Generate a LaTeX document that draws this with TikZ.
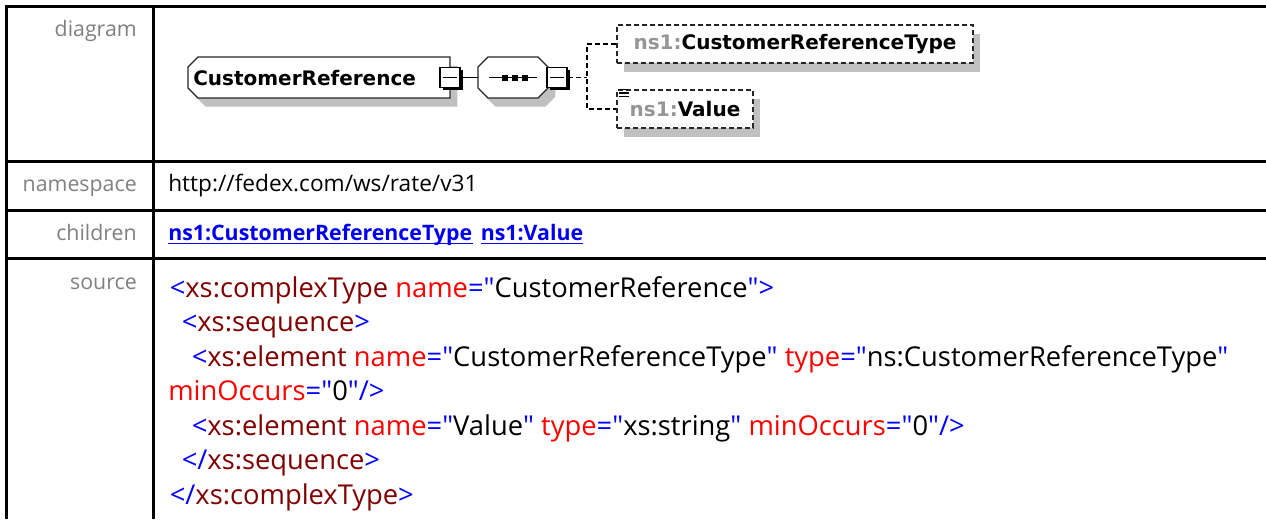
\documentclass[tikz,border=0pt]{standalone}
\usepackage{fontspec}
\setmainfont{Open Sans}[Ligatures=TeXOff]
\newfontfamily\diafont{DejaVu Sans}
\usetikzlibrary{positioning,shadows,calc}

\definecolor{labelgray}{RGB}{128,128,128}
\definecolor{nsgray}{RGB}{150,150,150}
\definecolor{shadowgray}{RGB}{192,192,192}
\definecolor{xmlblue}{RGB}{0,0,255}
\definecolor{xmlelem}{RGB}{128,0,0}
\definecolor{xmlattr}{RGB}{255,0,0}
\definecolor{linkblue}{RGB}{0,0,238}

% colouring of the xml source
\newcommand\xb[1]{\textcolor{xmlblue}{#1}}
\newcommand\xe[1]{\textcolor{xmlelem}{#1}}
\newcommand\xa[1]{\textcolor{xmlattr}{#1}}
\newcommand\nsp[1]{\textcolor{nsgray}{#1}}

\begin{document}
\begin{tikzpicture}[
    x=0.75pt, y=-0.75pt,
    gridline/.style={line width=2.25pt},
    rowlabel/.style={anchor=base east, inner sep=0pt, text=labelgray, font=\fontsize{16}{19}\selectfont},
    cell/.style={anchor=base west, inner sep=0pt, font=\fontsize{17}{20}\selectfont},
    link/.style={anchor=base west, inner sep=0pt, text=linkblue, font=\fontsize{16}{19}\selectfont\bfseries},
    srcline/.style={anchor=base west, inner sep=0pt, font=\fontsize{20.5}{24}\selectfont},
    boxshadow/.style={general shadow={fill=shadowgray, shadow xshift=5.6pt, shadow yshift=-6.4pt}},
    diabox/.style={draw=black!85, fill=white, line width=0.9pt, boxshadow},
    diatext/.style={inner sep=0pt, font=\diafont\bfseries\fontsize{15}{18}\selectfont},
    minusbox/.style={draw, fill=white, line width=1.1pt, minimum size=15pt, inner sep=0pt,
        general shadow={fill=black, shadow xshift=1.9pt, shadow yshift=-1.9pt},
        path picture={\draw[line width=1.2pt] ([xshift=-5.25pt]path picture bounding box.center) -- ([xshift=5.25pt]path picture bounding box.center);}},
    dashline/.style={line width=1.2pt, dash pattern=on 3.75pt off 2.25pt},
    elembox/.style={diabox, dashline, minimum height=28.5pt, diatext}
]
\useasboundingbox (0,0) rectangle (1266,519);

% table
\draw[gridline] (6,519) -- (6,6) -- (1266,6);
\draw[gridline] (153,6) -- (153,519);
\draw[gridline] (6,161) -- (1266,161);
\draw[gridline] (6,210) -- (1266,210);
\draw[gridline] (6,258) -- (1266,258);

\node[rowlabel] (lbldiagram) at (137,36) {diagram};
\node[rowlabel] (lblns) at (137,191) {namespace};
\node[rowlabel] (lblchildren) at (137,240) {children};
\node[rowlabel] (lblsource) at (137,289) {source};

% namespace and children
\node[cell] (nsval) at (168,191) {http://fedex.com/ws/rate/v31};
\node[link] (lnkcrt) at (168,240) {ns1:CustomerReferenceType};
\node[link] (lnkval) at ([xshift=6pt]lnkcrt.base east) {ns1:Value};
\draw[linkblue, line width=1.1pt] ([yshift=-2.6pt]lnkcrt.base west) -- ([yshift=-2.6pt]lnkcrt.base east);
\draw[linkblue, line width=1.1pt] ([yshift=-2.6pt]lnkval.base west) -- ([yshift=-2.6pt]lnkval.base east);

% source
\node[srcline] (src1) at (169.5,297) {\xb{<}\xe{xs:complexType} \xa{name}\xb{="}CustomerReference\xb{">}};
\node[srcline] (src2) at (181.5,331.5) {\xb{<}\xe{xs:sequence}\xb{>}};
\node[srcline] (src3) at (191.5,366) {\xb{<}\xe{xs:element} \xa{name}\xb{="}CustomerReferenceType\xb{"} \xa{type}\xb{="}ns:CustomerReferenceType\xb{"}};
\node[srcline] (src4) at (168,400.5) {\xa{minOccurs}\xb{="}0\xb{"/>}};
\node[srcline] (src5) at (191.5,435) {\xb{<}\xe{xs:element} \xa{name}\xb{="}Value\xb{"} \xa{type}\xb{="}xs:string\xb{"} \xa{minOccurs}\xb{="}0\xb{"/>}};
\node[srcline] (src6) at (181.5,469.5) {\xb{</}\xe{xs:sequence}\xb{>}};
\node[srcline] (src7) at (169.5,504) {\xb{</}\xe{xs:complexType}\xb{>}};

% diagram: complex type
\draw[diabox] (198,57) -- (450,57) -- (450,98) -- (198,98) -- (188,88) -- (188,67) -- cycle;
\node[diatext, anchor=west] (crname) at (193,78) {CustomerReference};
\node[minusbox] (crminus) at (450,77.5) {};

% sequence
\coordinate (seqin) at (478,77.5);
\draw[line width=1.1pt] (crminus.east) -- (seqin);
\draw[diabox] (488,57) -- (538,57) -- (548,67) -- (548,88) -- (538,98) -- (488,98) -- (478,88) -- (478,67) -- cycle;
\draw[line width=1.1pt] (489,77.5) -- (537,77.5);
\fill (502,75) rectangle (507.5,80.5);
\fill (512,75) rectangle (517.5,80.5);
\fill (522,75) rectangle (527.5,80.5);
\node[minusbox] (seqminus) at (557,77.5) {};

% children
\coordinate (fork) at (587,77.5);
\node[elembox, minimum width=267pt] (crt) at (795,44) {\nsp{ns1:}CustomerReferenceType};
\node[elembox, minimum width=102pt] (val) at (685,109) {\nsp{ns1:}Value};
\draw[line width=0.9pt] (620,89.5) -- (628,89.5) (619,93) -- (629,93) (619,96.5) -- (629,96.5);
\draw[dashline] (seqminus.east) -- (fork);
\draw[dashline] (crt.west) -| (fork) |- (val.west);

\end{tikzpicture}
\end{document}
